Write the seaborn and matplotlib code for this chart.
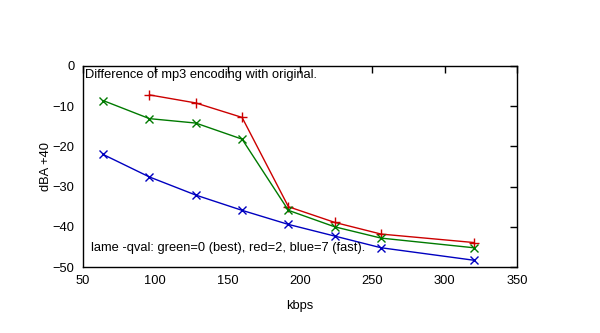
import matplotlib
matplotlib.use("Agg")
import matplotlib.pyplot as plt
import seaborn as sns
import pandas as pd

kbps_red = [96, 128, 160, 192, 224, 256, 320]
red_vals = [-7.2, -9.2, -12.8, -35.0, -38.9, -41.8, -43.9]
kbps_green = [64, 96, 128, 160, 192, 224, 256, 320]
green_vals = [-8.6, -13.1, -14.2, -18.2, -35.9, -40.0, -42.8, -45.2]
kbps_blue = [64, 96, 128, 160, 192, 224, 256, 320]
blue_vals = [-22.0, -27.6, -32.1, -35.9, -39.4, -42.3, -45.2, -48.3]

sns.set_style("white")
plt.rcParams['font.family'] = ['Liberation Sans', 'DejaVu Sans']
plt.rcParams['text.color'] = 'black'
plt.rcParams['axes.labelcolor'] = 'black'

fig = plt.figure(figsize=(6, 3.33), dpi=100)
ax = fig.add_axes([0.138, 0.198, 0.724, 0.604])

df_r = pd.DataFrame({"kbps": kbps_red, "v": red_vals})
df_g = pd.DataFrame({"kbps": kbps_green, "v": green_vals})
df_b = pd.DataFrame({"kbps": kbps_blue, "v": blue_vals})

for df, col, mk, ms in [(df_r, "#cc0000", "+", 7.5), (df_g, "#007a00", "x", 5.5), (df_b, "#0000c0", "x", 5.5)]:
    sns.lineplot(data=df, x="kbps", y="v", ax=ax, color=col, marker=mk,
                 markersize=ms, markeredgewidth=1, markeredgecolor=col,
                 markerfacecolor=col, linewidth=1)

ax.set_xlim(50, 350)
ax.set_ylim(-50, 0)
ax.set_xticks([50, 100, 150, 200, 250, 300, 350])
ax.set_yticks([0, -10, -20, -30, -40, -50])
ax.tick_params(direction="in", top=True, right=True, length=5, width=1,
               labelsize=9.3, colors="black", pad=6)
for s in ax.spines.values():
    s.set_color("black")
    s.set_linewidth(1)
ax.set_xlabel("kbps", fontsize=9.3, labelpad=9)
ax.set_ylabel("dBA +40", fontsize=9.3, labelpad=0)

ax.text(0.005, 0.955, "Difference of mp3 encoding with original.", transform=ax.transAxes,
        fontsize=9.3, va="center", ha="left")
ax.text(0.02, 0.095, "lame -qval: green=0 (best), red=2, blue=7 (fast).", transform=ax.transAxes,
        fontsize=9.3, va="center", ha="left")

fig.savefig("out.png", dpi=100)
